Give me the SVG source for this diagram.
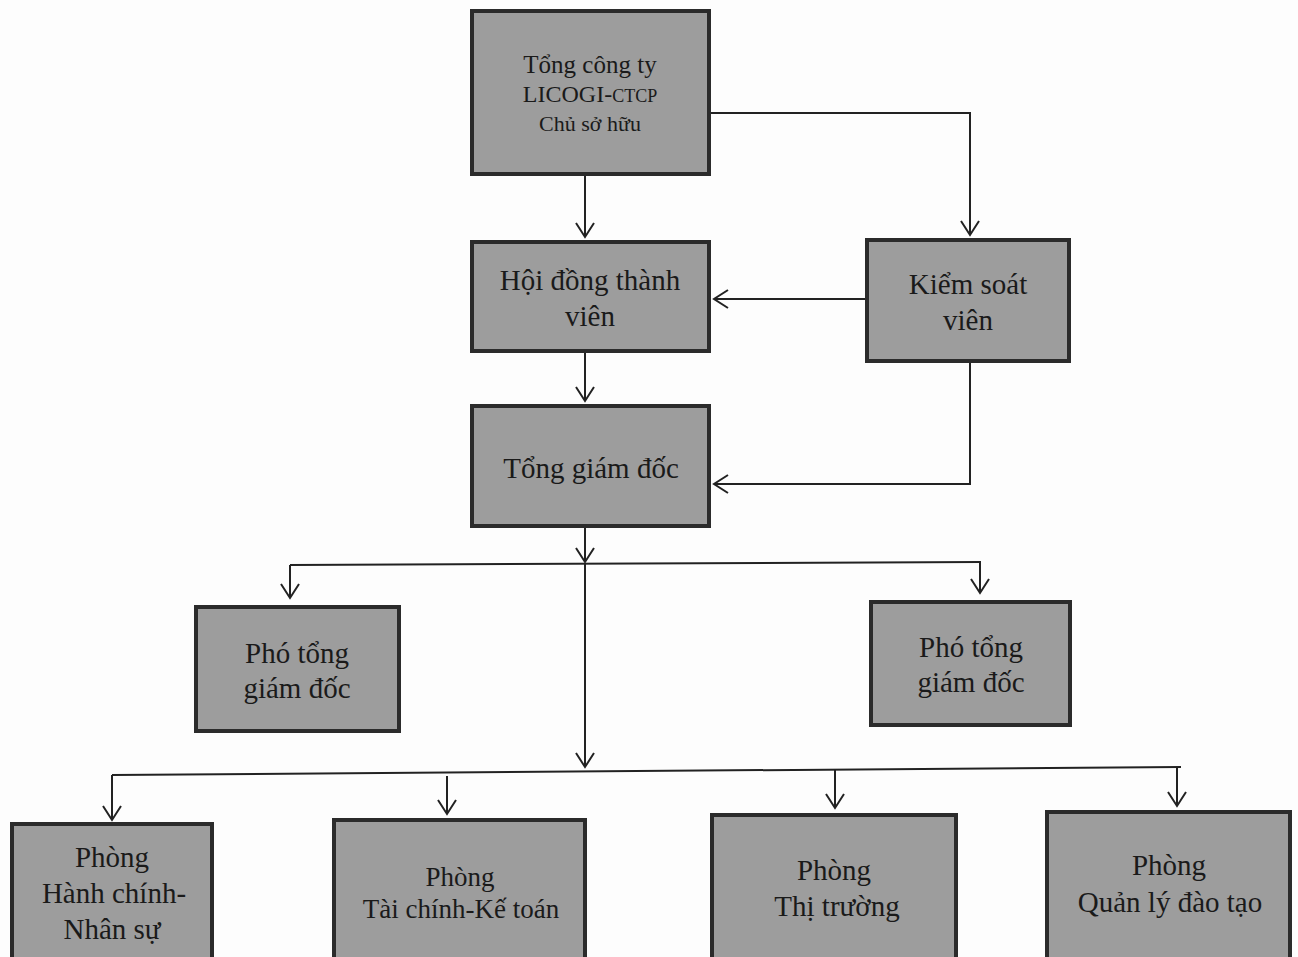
<svg xmlns="http://www.w3.org/2000/svg" width="1298" height="957" viewBox="0 0 1298 957">
<style>
.box{fill:#9d9d9d;stroke:#2b2b2b;stroke-width:4}
.t{font-family:"Liberation Serif","Times New Roman",serif;font-size:29px;fill:#1a1a1a;text-anchor:middle}
.s{font-size:23px}
.c{stroke:#222;stroke-width:2;fill:none}
</style>
<defs>
<marker id="ah" viewBox="-16 -10 18 20" markerWidth="18" markerHeight="20" refX="0" refY="0" orient="auto" markerUnits="userSpaceOnUse">
<path d="M-14,-9 L0,0 L-14,9" fill="none" stroke="#222" stroke-width="2"/>
</marker>
</defs>
<rect width="1298" height="957" fill="#fdfdfd"/>
<g id="connectors">
<line class="c" x1="585" y1="176" x2="585" y2="237" marker-end="url(#ah)"/>
<polyline class="c" points="711,113 970,113 970,235" marker-end="url(#ah)"/>
<line class="c" x1="865" y1="299" x2="714" y2="299" marker-end="url(#ah)"/>
<line class="c" x1="585" y1="353" x2="585" y2="401" marker-end="url(#ah)"/>
<polyline class="c" points="970,363 970,484 714,484" marker-end="url(#ah)"/>
<line class="c" x1="585" y1="528" x2="585" y2="562" marker-end="url(#ah)"/>
<line class="c" x1="290" y1="565" x2="981" y2="562"/>
<line class="c" x1="290" y1="565" x2="290" y2="598" marker-end="url(#ah)"/>
<line class="c" x1="980" y1="562" x2="980" y2="593" marker-end="url(#ah)"/>
<line class="c" x1="585" y1="563" x2="585" y2="767" marker-end="url(#ah)"/>
<line class="c" x1="112" y1="775" x2="1181" y2="767"/>
<line class="c" x1="112" y1="775" x2="112" y2="820" marker-end="url(#ah)"/>
<line class="c" x1="447" y1="776" x2="447" y2="814" marker-end="url(#ah)"/>
<line class="c" x1="835" y1="769" x2="835" y2="808" marker-end="url(#ah)"/>
<line class="c" x1="1177" y1="767" x2="1177" y2="806" marker-end="url(#ah)"/>
</g>
<g id="owner">
<rect class="box" x="472" y="11" width="237" height="163"/>
<text class="t" x="590" y="73" style="font-size:25px">Tổng công ty</text>
<text class="t" x="590" y="102" style="font-size:24px">LICOGI-<tspan style="font-size:18px">CTCP</tspan></text>
<text class="t" x="590" y="131" style="font-size:22px">Chủ sở hữu</text>
</g>
<g id="hdtv">
<rect class="box" x="472" y="242" width="237" height="109"/>
<text class="t" x="590" y="290">Hội đồng thành</text>
<text class="t" x="590" y="326">viên</text>
</g>
<g id="ksv">
<rect class="box" x="867" y="240" width="202" height="121"/>
<text class="t" x="968" y="294">Kiểm soát</text>
<text class="t" x="968" y="330">viên</text>
</g>
<g id="tgd">
<rect class="box" x="472" y="406" width="237" height="120"/>
<text class="t" x="591" y="478">Tổng giám đốc</text>
</g>
<g id="pho1">
<rect class="box" x="196" y="607" width="203" height="124"/>
<text class="t" x="297" y="663">Phó tổng</text>
<text class="t" x="297" y="698">giám đốc</text>
</g>
<g id="pho2">
<rect class="box" x="871" y="602" width="199" height="123"/>
<text class="t" x="971" y="657">Phó tổng</text>
<text class="t" x="971" y="692">giám đốc</text>
</g>
<g id="hcns">
<rect class="box" x="12" y="824" width="200" height="140"/>
<text class="t" x="112" y="867">Phòng</text>
<text class="t" x="114" y="903">Hành chính-</text>
<text class="t" x="112" y="939">Nhân sự</text>
</g>
<g id="tckt">
<rect class="box" x="334" y="820" width="251" height="144"/>
<text class="t" x="460" y="886" style="font-size:27px">Phòng</text>
<text class="t" x="461" y="918" style="font-size:27px">Tài chính-Kế toán</text>
</g>
<g id="tt">
<rect class="box" x="712" y="815" width="244" height="149"/>
<text class="t" x="834" y="880">Phòng</text>
<text class="t" x="837" y="916">Thị trường</text>
</g>
<g id="qldt">
<rect class="box" x="1047" y="812" width="243" height="152"/>
<text class="t" x="1169" y="875">Phòng</text>
<text class="t" x="1170" y="912">Quản lý đào tạo</text>
</g>
</svg>
